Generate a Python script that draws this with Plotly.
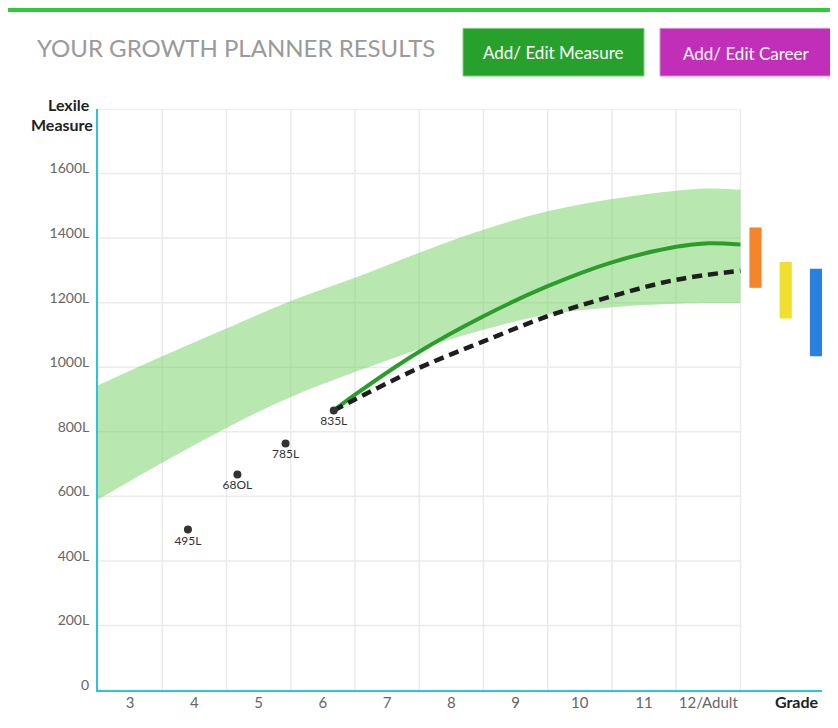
import plotly.graph_objects as go

# ---------------- data ----------------
grades = [3, 4, 5, 6, 7, 8, 9, 10, 11, 12]
grade_labels = ["3", "4", "5", "6", "7", "8", "9", "10", "11", "12/Adult"]
y_ticks = [0, 200, 400, 600, 800, 1000, 1200, 1400, 1600]
y_tick_labels = ["0", "200L", "400L", "600L", "800L", "1000L", "1200L", "1400L", "1600L"]
grid_y = [200, 400, 600, 800, 1000, 1200, 1400, 1600, 1800]
grid_x = [3.5, 4.5, 5.5, 6.5, 7.5, 8.5, 9.5, 10.5, 11.5, 12.5]

band_x = [2.5, 3.5, 4.5, 5.5, 6.5, 7.5, 8.5, 9.5, 10.5, 11.5, 12.0, 12.5]
band_upper = [944, 1034, 1120, 1205, 1277, 1355, 1426, 1483, 1521, 1547, 1554, 1550]
band_lower = [590, 704, 812, 908, 985, 1056, 1116, 1163, 1186, 1197, 1199, 1199]

goal_x = [6.17, 6.5, 7.5, 8.5, 9.5, 10.5, 11.5, 12.0, 12.5]
goal_y = [866, 915, 1048, 1158, 1251, 1325, 1373, 1384, 1380]

proj_x = [6.17, 6.5, 7.5, 8.5, 9.5, 10.5, 11.5, 12.5]
proj_y = [866, 900, 998, 1080, 1158, 1220, 1271, 1299]

meas_x = [3.90, 4.67, 5.42, 6.17]
meas_y = [497, 668, 764, 866]
meas_labels = ["495L", "68OL", "785L", "835L"]

career_x = [12.735, 13.205, 13.677]
career_low = [1246, 1151, 1034]
career_high = [1433, 1326, 1305]
career_colors = ["#f5852a", "#f0df2e", "#2b7fe0"]

# ---------------- geometry (reference pixel coords) ----------------
PAGE_W, PAGE_H = 838, 728
OFF = 8                      # browser body margin
L, R, T, B = 98, 822, 109, 690.5


def px(xp):
    return (xp - L) / (R - L)


def py(yp):
    return (B - yp) / (B - T)


FONT = "Lato"
fig = go.Figure()

# band
fig.add_trace(go.Scatter(x=band_x, y=band_lower, mode="lines",
                         line=dict(width=0, shape="spline"), hoverinfo="skip",
                         showlegend=False))
fig.add_trace(go.Scatter(x=band_x, y=band_upper, mode="lines",
                         line=dict(width=0, shape="spline"), fill="tonexty",
                         fillcolor="rgba(113,209,97,0.5)", hoverinfo="skip",
                         showlegend=False))

# goal line
fig.add_trace(go.Scatter(x=goal_x, y=goal_y, mode="lines",
                         line=dict(color="#2a9d2a", width=4, shape="spline"),
                         showlegend=False))
# projected dashed line
fig.add_trace(go.Scatter(x=proj_x, y=proj_y, mode="lines",
                         line=dict(color="#1e1e1e", width=4.5, shape="spline",
                                   dash="10px,6px"),
                         showlegend=False))

# measures
fig.add_trace(go.Scatter(x=meas_x, y=meas_y, mode="markers+text",
                         marker=dict(color="#333333", size=8),
                         text=meas_labels, textposition="bottom center",
                         textfont=dict(family=FONT, size=12, color="#333333"),
                         showlegend=False))

# career bars
fig.add_trace(go.Bar(x=career_x,
                     y=[h - l for h, l in zip(career_high, career_low)],
                     base=career_low, width=0.19,
                     marker=dict(color=career_colors, line=dict(width=0)),
                     showlegend=False))

shapes = []
# top green stripe
shapes.append(dict(type="rect", xref="paper", yref="paper", layer="below",
                   x0=px(0), x1=px(PAGE_W + 5), y0=py(12), y1=py(0),
                   fillcolor="#2ecc3a", line=dict(width=0)))
# buttons
shapes.append(dict(type="rect", xref="paper", yref="paper", layer="above",
                   x0=px(463), x1=px(644), y0=py(76), y1=py(28.3),
                   fillcolor="#27a12b", line=dict(color="#7fd07f", width=1)))
shapes.append(dict(type="rect", xref="paper", yref="paper", layer="above",
                   x0=px(660), x1=px(833), y0=py(76), y1=py(28.3),
                   fillcolor="#c12fb8", line=dict(color="#e08ad8", width=1)))

# gridlines
for gy in grid_y:
    shapes.append(dict(type="line", xref="x", yref="y", layer="below",
                       x0=2.5, x1=12.5, y0=gy, y1=gy,
                       line=dict(color="#ebebeb", width=1.5)))
for gx in grid_x:
    shapes.append(dict(type="line", xref="x", yref="y", layer="below",
                       x0=gx, x1=gx, y0=0, y1=1800,
                       line=dict(color="#ebebeb", width=1.5)))

annotations = [
    dict(text="YOUR GROWTH PLANNER RESULTS", xref="paper", yref="paper",
         x=px(35), y=py(47.5), xanchor="left", yanchor="middle", showarrow=False,
         font=dict(family=FONT, size=24, color="#9a9a9a")),
    dict(text="Add/ Edit Measure", xref="paper", yref="paper",
         x=px(553.5), y=py(52), xanchor="center", yanchor="middle", showarrow=False,
         font=dict(family=FONT, size=17, color="white")),
    dict(text="Add/ Edit Career", xref="paper", yref="paper",
         x=px(746.5), y=py(53), xanchor="center", yanchor="middle", showarrow=False,
         font=dict(family=FONT, size=17, color="white")),
    dict(text="<b>Lexile</b>", xref="paper", yref="paper",
         x=px(91.5), y=py(104), xanchor="right", yanchor="middle", showarrow=False,
         font=dict(family=FONT, size=16, color="#222222")),
    dict(text="<b>Measure</b>", xref="paper", yref="paper",
         x=px(95), y=py(125), xanchor="right", yanchor="middle", showarrow=False,
         font=dict(family=FONT, size=16, color="#222222")),
    dict(text="<b>Grade</b>", xref="paper", yref="paper",
         x=px(821), y=py(702), xanchor="right", yanchor="middle", showarrow=False,
         font=dict(family=FONT, size=16, color="#222222")),
]

fig.update_layout(
    width=PAGE_W - OFF, height=PAGE_H - OFF,
    margin=dict(l=L - OFF, r=PAGE_W - R, t=T - OFF, b=PAGE_H - B, pad=0),
    paper_bgcolor="white",
    plot_bgcolor="rgba(0,0,0,0)",
    shapes=shapes,
    annotations=annotations,
    barmode="overlay",
    showlegend=False,
    xaxis=dict(range=[2.5, 13.77], tickmode="array", tickvals=grades,
               ticktext=grade_labels, showgrid=False, zeroline=False,
               showline=True, linecolor="#2bc4dc", linewidth=2, ticks="",
               ticklabelstandoff=-2,
               tickfont=dict(family=FONT, size=15, color="#666666"),
               fixedrange=True),
    yaxis=dict(range=[0, 1800], tickmode="array", tickvals=y_ticks,
               ticktext=y_tick_labels, showgrid=False, zeroline=False,
               showline=True, linecolor="#2bc4dc", linewidth=2, ticks="",
               ticklabelshift=-5, ticklabelstandoff=4,
               tickfont=dict(family=FONT, size=14, color="#666666"),
               fixedrange=True),
)

fig.write_html("out.html")
